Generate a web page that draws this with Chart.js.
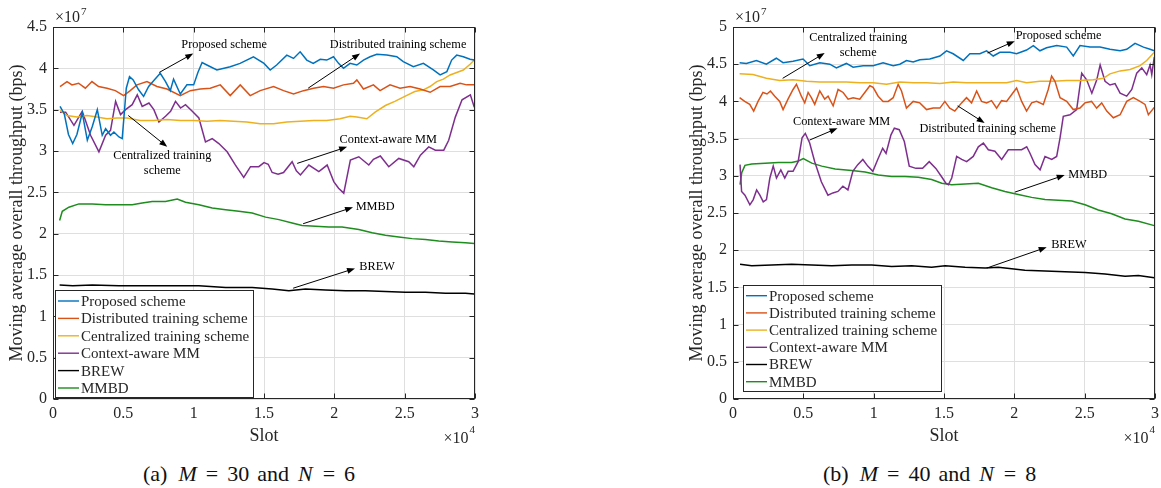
<!DOCTYPE html>
<html><head><meta charset="utf-8">
<script src="https://cdn.jsdelivr.net/npm/chart.js@4.4.1/dist/chart.umd.min.js"></script>
<style>
html,body{margin:0;padding:0;background:#fff;}
body{width:1161px;height:488px;overflow:hidden;position:relative;font-family:"Liberation Serif","Times New Roman",serif;color:#000;}
#wa{position:absolute;left:0;top:0;width:480px;height:455px;}
#wb{position:absolute;left:680px;top:0;width:481px;height:455px;}
.cap{position:absolute;top:461px;height:26px;line-height:26px;font-size:22px;display:flex;white-space:nowrap;color:#111;}
.cap i{font-style:italic;}
</style></head><body>
<div id="wa"><canvas id="ca" width="480" height="455"></canvas></div>
<div id="wb"><canvas id="cb" width="481" height="455"></canvas></div>
<div class="cap" style="left:143px"><span>(a)</span><i style="margin-left:11px">M</i><span style="margin-left:9px">=</span><span style="margin-left:9px">30</span><span style="margin-left:8px">and</span><i style="margin-left:9px">N</i><span style="margin-left:10px">=</span><span style="margin-left:9px">6</span></div>
<div class="cap" style="left:823px"><span>(b)</span><i style="margin-left:11px">M</i><span style="margin-left:9px">=</span><span style="margin-left:9px">40</span><span style="margin-left:8px">and</span><i style="margin-left:9px">N</i><span style="margin-left:10px">=</span><span style="margin-left:9px">8</span></div>
<script>
// ---------- DATA ----------
const seriesNames = ['Proposed scheme','Distributed training scheme','Centralized training scheme','Context-aware MM','BREW','MMBD'];
const xTickVals = [0,5000,10000,15000,20000,25000,30000];
const xTickLabels = ['0','0.5','1','1.5','2','2.5','3'];
const yTickValsA = [0,0.5,1,1.5,2,2.5,3,3.5,4,4.5];
const yTickLabelsA = ['0','0.5','1','1.5','2','2.5','3','3.5','4','4.5'];
const yTickValsB = [0,0.5,1,1.5,2,2.5,3,3.5,4,4.5,5];
const yTickLabelsB = ['0','0.5','1','1.5','2','2.5','3','3.5','4','4.5','5'];

// (a) M=30, N=6 : [slot, throughput x1e7]
const A_proposed = [[500,3.54],[800,3.45],[1100,3.2],[1400,3.09],[1700,3.2],[2080,3.46],[2440,3.13],[2800,3.3],[3150,3.5],[3500,3.19],[3740,3.27],[4090,3.19],[4330,3.23],[4690,3.17],[4920,3.15],[5210,3.76],[5440,3.9],[5700,3.86],[6085,3.74],[6440,3.66],[6800,3.78],[7200,3.86],[7625,3.94],[8000,3.84],[8340,3.73],[8570,3.87],[9050,3.69],[9520,3.8],[10000,3.8],[10300,3.95],[10600,4.07],[10940,4.04],[11650,3.98],[12600,4.02],[13300,4.06],[14250,4.14],[15000,4.06],[15440,3.98],[15900,4.04],[16620,4.16],[17100,4.12],[17570,4.2],[18040,4.1],[18500,4.06],[19000,4.11],[19460,4.1],[19940,4.14],[20300,4.06],[20650,4.0],[21120,4.06],[21600,4.04],[22070,4.1],[22540,4.14],[23020,4.17],[23730,4.16],[24440,4.14],[24900,4.08],[25620,4.02],[26330,4.06],[27040,3.98],[27520,3.92],[28000,3.96],[28340,4.1],[28700,4.16],[29170,4.14],[29650,4.11],[29950,4.1]];
const A_distributed = [[500,3.78],[995,3.84],[1350,3.8],[1820,3.82],[2300,3.76],[2770,3.84],[3240,3.78],[3840,3.76],[4430,3.73],[5020,3.67],[5490,3.73],[5970,3.8],[6680,3.84],[7390,3.78],[8100,3.75],[9050,3.67],[9760,3.73],[10470,3.75],[11180,3.76],[11890,3.8],[12600,3.67],[13310,3.8],[14020,3.67],[14730,3.73],[15680,3.78],[16390,3.73],[17100,3.69],[17810,3.73],[18520,3.76],[19230,3.78],[19940,3.76],[20650,3.8],[21360,3.82],[21600,3.86],[22070,3.75],[22780,3.8],[23250,3.73],[23960,3.8],[24670,3.76],[25380,3.78],[26100,3.75],[26810,3.71],[27520,3.78],[28230,3.78],[28940,3.82],[29410,3.8],[29950,3.8]];
const A_centralized = [[500,3.49],[995,3.43],[1700,3.41],[2415,3.43],[3125,3.41],[3840,3.39],[4550,3.4],[5260,3.4],[6200,3.37],[7150,3.37],[8100,3.38],[9050,3.37],[10000,3.37],[10940,3.36],[11890,3.37],[12830,3.36],[13780,3.35],[14730,3.33],[15680,3.33],[16620,3.35],[17570,3.36],[18520,3.37],[19460,3.37],[20410,3.39],[21120,3.42],[21600,3.41],[22310,3.39],[22900,3.47],[23630,3.55],[24300,3.6],[25010,3.66],[25720,3.72],[26330,3.74],[26800,3.78],[27280,3.84],[27750,3.87],[28230,3.92],[28700,3.95],[29170,3.98],[29650,4.05],[29950,4.1]];
const A_context = [[500,3.47],[900,3.47],[1490,3.31],[2080,3.48],[2670,3.19],[3265,2.99],[3740,3.19],[4090,3.25],[4450,3.6],[4800,3.44],[5160,3.5],[5630,3.56],[5990,3.68],[6340,3.54],[6820,3.58],[7170,3.5],[7530,3.35],[8000,3.42],[8360,3.48],[8710,3.6],[9070,3.52],[9420,3.56],[9900,3.48],[10370,3.4],[10840,3.11],[11320,3.15],[11790,3.09],[12380,2.99],[12970,2.83],[13560,2.68],[14040,2.81],[14630,2.81],[15000,2.86],[15300,2.84],[15580,2.74],[16000,2.72],[16390,2.74],[17000,2.87],[17300,2.76],[17590,2.71],[18190,2.83],[18900,2.75],[19490,2.83],[19960,2.63],[20300,2.55],[20670,2.49],[21140,2.89],[21740,2.93],[22450,2.83],[22780,2.9],[23270,2.94],[23870,2.81],[24580,2.91],[25290,2.87],[25650,2.81],[26120,2.95],[26710,3.05],[27180,3.01],[27780,3.01],[28130,3.13],[28600,3.41],[29080,3.62],[29670,3.68],[29950,3.53]];
const A_brew = [[470,1.38],[1400,1.37],[2790,1.38],[4690,1.37],[6580,1.37],[8470,1.37],[10370,1.37],[12270,1.35],[14160,1.35],[15580,1.33],[16770,1.31],[17950,1.33],[19370,1.32],[20790,1.31],[22210,1.31],[23630,1.3],[25050,1.29],[26480,1.29],[27900,1.28],[29320,1.28],[29950,1.27]];
const A_mmbd = [[470,2.16],[660,2.27],[1130,2.32],[1840,2.36],[2790,2.36],[3740,2.35],[4690,2.35],[5630,2.35],[6340,2.37],[7050,2.39],[8000,2.39],[8830,2.42],[9420,2.38],[10370,2.35],[11320,2.31],[12270,2.29],[13210,2.27],[14160,2.25],[15110,2.2],[16060,2.17],[17000,2.13],[17710,2.1],[18660,2.09],[19610,2.08],[20550,2.08],[21740,2.05],[22690,2.01],[23630,1.98],[24580,1.96],[25530,1.94],[26480,1.93],[27420,1.91],[28370,1.9],[29320,1.89],[29950,1.88]];

// (b) M=40, N=8 : [slot, throughput x1e7]
const B_proposed = [[470,4.52],[950,4.51],[1660,4.55],[2370,4.5],[3080,4.58],[3560,4.52],[4270,4.54],[4980,4.57],[5460,4.48],[6170,4.52],[6880,4.5],[7350,4.45],[8060,4.51],[8540,4.46],[9250,4.48],[9960,4.48],[10670,4.52],[11390,4.48],[11860,4.5],[12330,4.55],[12810,4.53],[13280,4.56],[13990,4.57],[14710,4.61],[15180,4.68],[15650,4.64],[16370,4.55],[16840,4.64],[17550,4.64],[18030,4.68],[18500,4.61],[18980,4.66],[19690,4.66],[20160,4.64],[20870,4.69],[21350,4.75],[21820,4.68],[22290,4.72],[23010,4.75],[23720,4.73],[24190,4.61],[24670,4.75],[25380,4.73],[26090,4.73],[26800,4.7],[27520,4.68],[27990,4.7],[28580,4.78],[29180,4.73],[29650,4.7],[29950,4.68]];
const B_distributed = [[470,4.05],[830,4.0],[1190,3.96],[1470,3.87],[1780,4.0],[2130,4.12],[2420,4.1],[2660,4.14],[2970,4.07],[3320,4.0],[3560,3.89],[3910,4.03],[4270,4.16],[4510,4.23],[4860,4.07],[5100,3.98],[5340,4.12],[5570,4.05],[5810,3.96],[6170,4.14],[6520,4.03],[6760,4.07],[7120,3.94],[7470,4.16],[7830,4.12],[8180,4.03],[8540,4.05],[9010,4.03],[9370,4.12],[9730,4.21],[9960,4.19],[10320,4.07],[10670,4.0],[11030,4.0],[11390,4.05],[11740,4.23],[11980,4.14],[12330,3.91],[12810,4.0],[13280,3.98],[13760,3.89],[14230,3.91],[14710,3.91],[15060,4.0],[15410,3.91],[15770,3.87],[16250,3.98],[16600,4.05],[16960,3.98],[17320,4.14],[17670,4.0],[18030,3.98],[18380,4.01],[18740,3.91],[19090,4.01],[19450,4.0],[19920,4.12],[20160,4.18],[20520,4.0],[20870,3.87],[21230,3.98],[21580,4.0],[22060,3.96],[22410,4.16],[22650,4.34],[22890,4.27],[23250,4.05],[23720,4.0],[24190,3.89],[24670,3.91],[25020,3.98],[25490,4.0],[25850,3.91],[26210,3.98],[26570,3.87],[27040,3.78],[27520,3.82],[27990,4.0],[28460,4.05],[28940,4.0],[29290,3.96],[29530,3.82],[29950,3.92]];
const B_centralized = [[470,4.37],[1420,4.36],[2370,4.31],[3320,4.28],[4270,4.29],[5220,4.27],[6170,4.26],[7120,4.26],[8060,4.26],[9010,4.25],[9960,4.25],[10910,4.23],[11860,4.26],[12810,4.25],[13760,4.25],[14710,4.24],[15650,4.26],[16600,4.25],[17550,4.25],[18500,4.25],[19450,4.25],[20160,4.28],[20870,4.25],[21820,4.27],[22770,4.27],[23720,4.28],[24670,4.28],[25610,4.29],[26330,4.31],[26800,4.37],[27520,4.41],[28230,4.43],[28940,4.48],[29410,4.55],[29950,4.66]];
const B_context = [[500,3.15],[610,2.79],[850,2.74],[1200,2.61],[1440,2.68],[1680,2.81],[1910,2.74],[2150,2.65],[2380,2.68],[2620,2.97],[2860,3.13],[3090,2.97],[3400,3.08],[3680,2.97],[3920,3.06],[4270,3.06],[4630,3.19],[4910,3.51],[5140,3.57],[5450,3.44],[5810,3.19],[6280,2.92],[6750,2.74],[7100,2.77],[7460,2.79],[7810,2.86],[8170,2.81],[8520,3.06],[8870,3.15],[9230,3.22],[9580,3.13],[9940,3.06],[10290,3.22],[10640,3.37],[10880,3.3],[11230,3.55],[11470,3.64],[11820,3.62],[12180,3.46],[12530,3.13],[13000,3.1],[13480,3.1],[13950,3.19],[14420,3.1],[14890,2.97],[15130,2.9],[15310,2.88],[15550,2.97],[15900,3.26],[16260,3.22],[16610,3.19],[17080,3.26],[17440,3.39],[17800,3.44],[18150,3.35],[18620,3.33],[19100,3.22],[19570,3.35],[20050,3.35],[20520,3.35],[20880,3.39],[21120,3.3],[21470,3.15],[21830,3.08],[22180,3.26],[22660,3.22],[23010,3.26],[23250,3.51],[23480,3.8],[23960,3.82],[24430,3.89],[24790,4.38],[25140,4.29],[25510,4.11],[25860,4.29],[26100,4.49],[26450,4.27],[26800,4.22],[27160,4.24],[27520,4.11],[27990,4.07],[28350,4.16],[28700,4.38],[29060,4.45],[29410,4.36],[29650,4.49],[29770,4.36],[29950,4.6]];
const B_brew = [[500,1.81],[1330,1.79],[2750,1.8],[4170,1.81],[5600,1.8],[7020,1.79],[8440,1.8],[9860,1.8],[11280,1.78],[12700,1.79],[14120,1.77],[15080,1.79],[16500,1.77],[17920,1.76],[18860,1.77],[19810,1.75],[20750,1.73],[22180,1.72],[23600,1.71],[25030,1.7],[26450,1.68],[27870,1.65],[28820,1.66],[29950,1.63]];
const B_mmbd = [[500,2.88],[620,3.04],[850,3.14],[1330,3.16],[2280,3.17],[3220,3.18],[4170,3.18],[4650,3.2],[5000,3.23],[5600,3.17],[6310,3.13],[7260,3.09],[8440,3.07],[9390,3.05],[10330,3.01],[11280,2.99],[12230,2.99],[13170,2.98],[14120,2.95],[14840,2.9],[15550,2.88],[16500,2.89],[17440,2.9],[18390,2.84],[19330,2.79],[20280,2.75],[21230,2.71],[22180,2.68],[23130,2.67],[24080,2.66],[25030,2.61],[25970,2.54],[26920,2.49],[27870,2.42],[28820,2.39],[29950,2.33]];

// text callouts: label anchor and arrow (slot, value)
const notesA = [
  {text:['Proposed scheme'], tx:12170, ty:4.28, ax0:7550, ay0:3.95, ax1:9970, ay1:4.18},
  {text:['Distributed training scheme'], tx:24530, ty:4.28, ax0:18140, ay0:3.76, ax1:21830, ay1:4.18},
  {text:['Centralized training','scheme'], tx:7770, ty:2.94, ax0:5350, ay0:3.43, ax1:8120, ay1:3.05},
  {text:['Context-aware MM'], tx:23830, ty:3.13, ax0:17360, ay0:2.85, ax1:20910, ay1:3.05},
  {text:['MMBD'], tx:22900, ty:2.32, ax0:17780, ay0:2.12, ax1:21330, ay1:2.32},
  {text:['BREW'], tx:23040, ty:1.6, ax0:17070, ay0:1.34, ax1:21470, ay1:1.58}
];
const notesB = [
  {text:['Centralized training','scheme'], tx:8900, ty:4.85, ax0:3530, ay0:4.31, ax1:6520, ay1:4.65},
  {text:['Proposed scheme'], tx:23150, ty:4.88, ax0:18100, ay0:4.65, ax1:20030, ay1:4.81},
  {text:['Distributed training scheme'], tx:18110, ty:3.63, ax0:15970, ay0:3.94, ax1:17890, ay1:3.71},
  {text:['Context-aware MM'], tx:7720, ty:3.72, ax0:5440, ay0:3.48, ax1:7430, ay1:3.64},
  {text:['MMBD'], tx:25220, ty:3.01, ax0:20030, ay0:2.78, ax1:23580, ay1:3.01},
  {text:['BREW'], tx:23880, ty:2.07, ax0:18040, ay0:1.76, ax1:22300, ay1:2.04}
];

// ---------- RENDER ----------
const FONT = '"Liberation Serif", "Times New Roman", serif';
const INK = '#262626';
const COLORS = ['#0072BD','#D95319','#EDB120','#7E2F8E','#000000','#1E8C1E'];

function ds(i, pairs){
  return {label: seriesNames[i], data: pairs.map(p=>({x:p[0], y:p[1]})), borderColor: COLORS[i], backgroundColor: COLORS[i],
          borderWidth: 1.5, pointRadius: 0, tension: 0, fill: false};
}

function arrow(ctx,x0,y0,x1,y1){
  const ang=Math.atan2(y1-y0,x1-x0), L=8, W=3;
  ctx.strokeStyle='#000'; ctx.fillStyle='#000'; ctx.lineWidth=1;
  ctx.beginPath(); ctx.moveTo(x0,y0); ctx.lineTo(x1-L*0.8*Math.cos(ang), y1-L*0.8*Math.sin(ang)); ctx.stroke();
  ctx.beginPath(); ctx.moveTo(x1,y1);
  ctx.lineTo(x1-L*Math.cos(ang)+W*Math.sin(ang), y1-L*Math.sin(ang)-W*Math.cos(ang));
  ctx.lineTo(x1-L*Math.cos(ang)-W*Math.sin(ang), y1-L*Math.sin(ang)+W*Math.cos(ang));
  ctx.closePath(); ctx.fill();
}

const framePlugin = {
  id:'frame',
  afterDatasetsDraw(chart, args, o){
    const {ctx, chartArea:a, scales:{x, y}} = chart;
    ctx.save();
    const L=Math.round(a.left)+0.5, R=Math.round(a.right)-0.5, T=Math.round(a.top)+0.5, B=Math.round(a.bottom)-0.5;
    ctx.strokeStyle=INK; ctx.lineWidth=1;
    ctx.strokeRect(L,T,R-L,B-T);
    ctx.beginPath();
    x.ticks.forEach(t=>{const p=Math.round(x.getPixelForValue(t.value))+0.5; ctx.moveTo(p,B); ctx.lineTo(p,B-5); ctx.moveTo(p,T); ctx.lineTo(p,T+5);});
    y.ticks.forEach(t=>{const p=Math.round(y.getPixelForValue(t.value))+0.5; ctx.moveTo(L,p); ctx.lineTo(L+5,p); ctx.moveTo(R,p); ctx.lineTo(R-5,p);});
    ctx.stroke();
    // exponent labels
    ctx.fillStyle=INK; ctx.textBaseline='alphabetic'; ctx.textAlign='left';
    ctx.font='16px '+FONT; const w10=ctx.measureText('\u00d710').width;
    ctx.fillText('\u00d710', a.left+2, a.top-5);
    ctx.font='11px '+FONT; ctx.fillText(o.yExp, a.left+2+w10+1, a.top-12);
    const wE=ctx.measureText(o.xExp).width;
    ctx.font='16px '+FONT; ctx.fillText('\u00d710', a.right-wE-w10-1, a.bottom+44);
    ctx.font='11px '+FONT; ctx.fillText(o.xExp, a.right-wE, a.bottom+34);
    // callouts
    ctx.font='12.3px '+FONT; ctx.textAlign='center'; ctx.textBaseline='middle'; 
    o.notes.forEach(n=>{
      const tx=x.getPixelForValue(n.tx), ty=y.getPixelForValue(n.ty);
      ctx.fillStyle='#000';
      n.text.forEach((s,k)=>ctx.fillText(s, tx, ty+k*15));
      arrow(ctx, x.getPixelForValue(n.ax0), y.getPixelForValue(n.ay0), x.getPixelForValue(n.ax1), y.getPixelForValue(n.ay1));
    });
    // legend
    const g=o.leg; const bx=Math.round(a.left+g.dx), by=Math.round(a.bottom-g.dy-g.h);
    ctx.fillStyle='#fff'; ctx.fillRect(bx,by,g.w,g.h);
    ctx.strokeStyle=INK; ctx.lineWidth=1; ctx.strokeRect(bx+0.5,by+0.5,g.w,g.h);
    ctx.font='15px '+FONT; ctx.textAlign='left'; ctx.textBaseline='middle';
    chart.data.datasets.forEach((d,i)=>{
      const ry=by+g.r0+i*g.gap;
      ctx.strokeStyle=d.borderColor; ctx.lineWidth=1.4;
      ctx.beginPath(); ctx.moveTo(bx+3,ry); ctx.lineTo(bx+24,ry); ctx.stroke();
      ctx.fillStyle=INK; ctx.fillText(d.label, bx+26, ry+1);
    });
    ctx.restore();
  }
};

function build(id, datasets, yMax, yVals, yLabels, notes, leg, rightPad){
  new Chart(document.getElementById(id), {
    type:'line',
    data:{datasets},
    options:{
      responsive:false, animation:false, events:[],
      layout:{padding:{top:27, right:rightPad, left:0, bottom:0}},
      plugins:{legend:{display:false}, tooltip:{enabled:false}, frame:{notes, leg, yExp:'7', xExp:'4'}},
      scales:{
        x:{type:'linear', min:0, max:30000,
           afterBuildTicks:s=>{s.ticks=xTickVals.map(v=>({value:v}));},
           ticks:{callback:(v,i)=>xTickLabels[i], font:{family:FONT,size:16}, color:INK, padding:5, maxRotation:0, autoSkip:false},
           grid:{color:'#dfdfdf', drawTicks:false, lineWidth:1}, border:{display:false},
           title:{display:true, text:'Slot', font:{family:FONT,size:18}, color:INK, padding:{top:0,bottom:7.5}},
           afterFit:s=>{s.height=56; s.paddingLeft=0; s.paddingRight=0;}},
        y:{type:'linear', min:0, max:yMax,
           afterBuildTicks:s=>{s.ticks=yVals.map(v=>({value:v}));},
           ticks:{callback:(v,i)=>yLabels[i], font:{family:FONT,size:16}, color:INK, padding:6, autoSkip:false},
           grid:{color:'#dfdfdf', drawTicks:false, lineWidth:1}, border:{display:false},
           title:{display:true, text:'Moving average overall throughput (bps)', font:{family:FONT,size:18}, color:INK, padding:{top:6,bottom:0}},
           afterFit:s=>{s.width=53; s.paddingTop=0; s.paddingBottom=0;}}
      }
    },
    plugins:[framePlugin]
  });
}

build('ca', [ds(0,A_proposed),ds(1,A_distributed),ds(2,A_centralized),ds(3,A_context),ds(4,A_brew),ds(5,A_mmbd)],
      4.5, yTickValsA, yTickLabelsA, notesA, {dx:2, dy:2, w:198, h:107, r0:11, gap:17.4}, 5);
build('cb', [ds(0,B_proposed),ds(1,B_distributed),ds(2,B_centralized),ds(3,B_context),ds(4,B_brew),ds(5,B_mmbd)],
      5, yTickValsB, yTickLabelsB, notesB, {dx:10, dy:8, w:198, h:106, r0:10.7, gap:17.2}, 6);
</script>
</body></html>
